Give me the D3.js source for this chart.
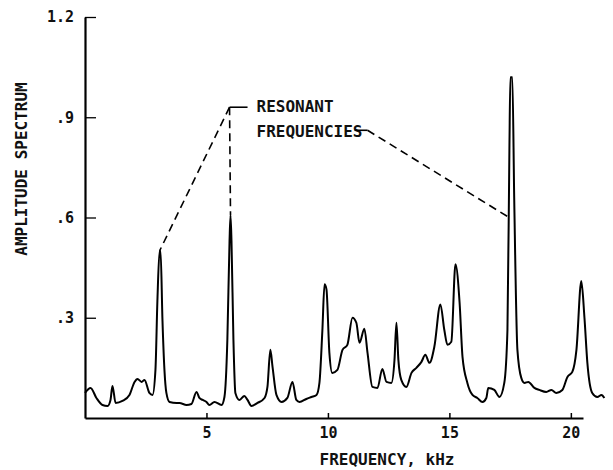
<!DOCTYPE html>
<html>
<head>
<meta charset="utf-8">
<script src="https://cdn.jsdelivr.net/npm/d3@7"></script>
<style>
  body { margin: 0; background: #fff; }
  svg text { font-family: "DejaVu Sans Mono", monospace; font-weight: bold; fill: #111; }
</style>
</head>
<body>
<div id="chart"></div>
<script>
// spectrum: frequency (kHz) and amplitude
const freqKHz = [
  0, 0.23, 0.47, 0.72, 0.93, 1.05, 1.13, 1.26, 1.54, 1.83, 2.04, 2.16, 2.33, 2.45, 2.65, 2.78,
  2.90, 2.98, 3.07, 3.11, 3.19, 3.27, 3.35, 3.48, 3.77, 3.89, 4.18, 4.38, 4.59, 4.71, 4.84,
  5.00, 5.12, 5.33, 5.62, 5.74, 5.86, 5.95, 5.99, 6.03, 6.11, 6.19, 6.36, 6.56, 6.69, 6.85,
  7.10, 7.39, 7.51, 7.63, 7.72, 7.88, 8.09, 8.33, 8.54, 8.70, 8.83, 9.11, 9.32, 9.53, 9.65,
  9.77, 9.86, 9.94, 10.06, 10.18, 10.39, 10.60, 10.80, 11.01, 11.17, 11.30, 11.50, 11.63,
  11.83, 12.04, 12.24, 12.41, 12.61, 12.74, 12.82, 12.90, 13.02, 13.23, 13.44, 13.64, 13.85,
  14.01, 14.18, 14.38, 14.63, 14.79, 14.92, 15.08, 15.25, 15.42, 15.54, 15.74, 15.95, 16.15,
  16.36, 16.52, 16.60, 16.85, 17.06, 17.26, 17.39, 17.47, 17.51, 17.59, 17.67, 17.80, 17.96,
  18.09, 18.25, 18.50, 18.70, 18.99, 19.20, 19.40, 19.65, 19.86, 20.06, 20.23, 20.43, 20.56,
  20.68, 20.88, 21.09, 21.26, 21.38
];
const amplitude = [
  0.075, 0.09, 0.06, 0.039, 0.036, 0.054, 0.096, 0.045, 0.051, 0.069, 0.108, 0.117, 0.108, 0.114, 0.075, 0.069,
  0.144, 0.35, 0.50, 0.50, 0.29, 0.144, 0.075, 0.048, 0.045, 0.045, 0.039, 0.042, 0.078, 0.06, 0.054,
  0.048, 0.039, 0.048, 0.039, 0.063, 0.234, 0.53, 0.606, 0.53, 0.234, 0.075, 0.054, 0.066, 0.054, 0.036,
  0.045, 0.06, 0.093, 0.204, 0.153, 0.069, 0.048, 0.06, 0.108, 0.054, 0.048, 0.057, 0.063, 0.069, 0.105,
  0.26, 0.40, 0.385, 0.195, 0.135, 0.144, 0.204, 0.219, 0.30, 0.285, 0.225, 0.267, 0.195,
  0.093, 0.09, 0.147, 0.108, 0.105, 0.174, 0.285, 0.174, 0.114, 0.093, 0.135, 0.15, 0.168,
  0.189, 0.165, 0.213, 0.34, 0.264, 0.219, 0.228, 0.46, 0.345, 0.183, 0.105, 0.069, 0.06,
  0.048, 0.06, 0.09, 0.084, 0.063, 0.105, 0.264, 0.80, 1.02, 1.02, 0.65, 0.204, 0.12,
  0.105, 0.108, 0.09, 0.084, 0.078, 0.084, 0.075, 0.084, 0.123, 0.138, 0.204, 0.41, 0.30,
  0.165, 0.075, 0.063, 0.069, 0.06
];

const xTicks = [5, 10, 15, 20];
const yTicks = [0.3, 0.6, 0.9, 1.2];
const yTickLabels = [".3", ".6", ".9", "1.2"];

// callout: label lines and the peaks they point at (kHz, amplitude)
const calloutLines = ["RESONANT", "FREQUENCIES"];
const calloutElbow = [5.95, 0.93];
const calloutLeftTargets = [[3.07, 0.50], [5.99, 0.606]];
const calloutRightStart = [11.63, 0.861];
const calloutRightTarget = [17.46, 0.60];

const width = 613, height = 470;
const svg = d3.select("#chart").append("svg")
  .attr("width", width).attr("height", height);

const x = d3.scaleLinear().domain([0, 20.5]).range([85, 583]);
const y = d3.scaleLinear().domain([0, 1.2]).range([418, 17]);

// axes
const yAxis = d3.axisLeft(y)
  .tickValues(yTicks)
  .tickFormat((d, i) => yTickLabels[i])
  .tickSizeInner(-11).tickSizeOuter(0).tickPadding(11);
const gy = svg.append("g").attr("transform", `translate(${x(0)},0)`).call(yAxis);
gy.select(".domain").attr("stroke", "#000").attr("stroke-width", 2.2);
gy.selectAll(".tick line").attr("stroke", "#000").attr("stroke-width", 1.3);
gy.selectAll(".tick text").style("font-size", "15px").attr("fill", "#111");

const xAxis = d3.axisBottom(x)
  .tickValues(xTicks)
  .tickSizeInner(-5).tickSizeOuter(0).tickPadding(9);
const gx = svg.append("g").attr("transform", `translate(0,${y(0)})`).call(xAxis);
gx.select(".domain").attr("stroke", "#000").attr("stroke-width", 2.2);
gx.selectAll(".tick line").attr("stroke", "#000").attr("stroke-width", 1.5);
gx.selectAll(".tick text").style("font-size", "15px").attr("fill", "#111");

// axis titles
svg.append("text")
  .attr("transform", "translate(27,169) rotate(-90)")
  .attr("text-anchor", "middle")
  .style("font-size", "16px")
  .text("AMPLITUDE SPECTRUM");

svg.append("text")
  .attr("x", 387).attr("y", 465)
  .attr("text-anchor", "middle")
  .style("font-size", "16px")
  .text("FREQUENCY, kHz");

// spectrum curve
const data = freqKHz.map((f, i) => [f, amplitude[i]]);
const line = d3.line()
  .x(d => x(d[0]))
  .y(d => y(d[1]))
  .curve(d3.curveMonotoneX);

svg.append("path")
  .datum(data)
  .attr("fill", "none")
  .attr("stroke", "#000")
  .attr("stroke-width", 2)
  .attr("stroke-linejoin", "round")
  .attr("d", line);

// callout
const dash = "8,5";
calloutLeftTargets.forEach(t => {
  svg.append("line")
    .attr("x1", x(calloutElbow[0])).attr("y1", y(calloutElbow[1]))
    .attr("x2", x(t[0])).attr("y2", y(t[1]))
    .attr("stroke", "#000").attr("stroke-width", 1.6)
    .attr("stroke-dasharray", dash);
});
svg.append("line")
  .attr("x1", x(calloutElbow[0])).attr("y1", y(calloutElbow[1]))
  .attr("x2", x(calloutElbow[0]) + 18).attr("y2", y(calloutElbow[1]))
  .attr("stroke", "#000").attr("stroke-width", 1.6);

const labelX = x(calloutElbow[0]) + 27;
calloutLines.forEach((t, i) => {
  svg.append("text")
    .attr("x", labelX)
    .attr("y", y(calloutElbow[1]) + 5 + i * 25)
    .style("font-size", "16px")
    .text(t);
});

svg.append("line")
  .attr("x1", x(calloutRightStart[0]) - 13).attr("y1", y(calloutRightStart[1]))
  .attr("x2", x(calloutRightStart[0])).attr("y2", y(calloutRightStart[1]))
  .attr("stroke", "#000").attr("stroke-width", 1.6);
svg.append("line")
  .attr("x1", x(calloutRightStart[0])).attr("y1", y(calloutRightStart[1]))
  .attr("x2", x(calloutRightTarget[0])).attr("y2", y(calloutRightTarget[1]))
  .attr("stroke", "#000").attr("stroke-width", 1.6)
  .attr("stroke-dasharray", dash);
</script>
</body>
</html>
